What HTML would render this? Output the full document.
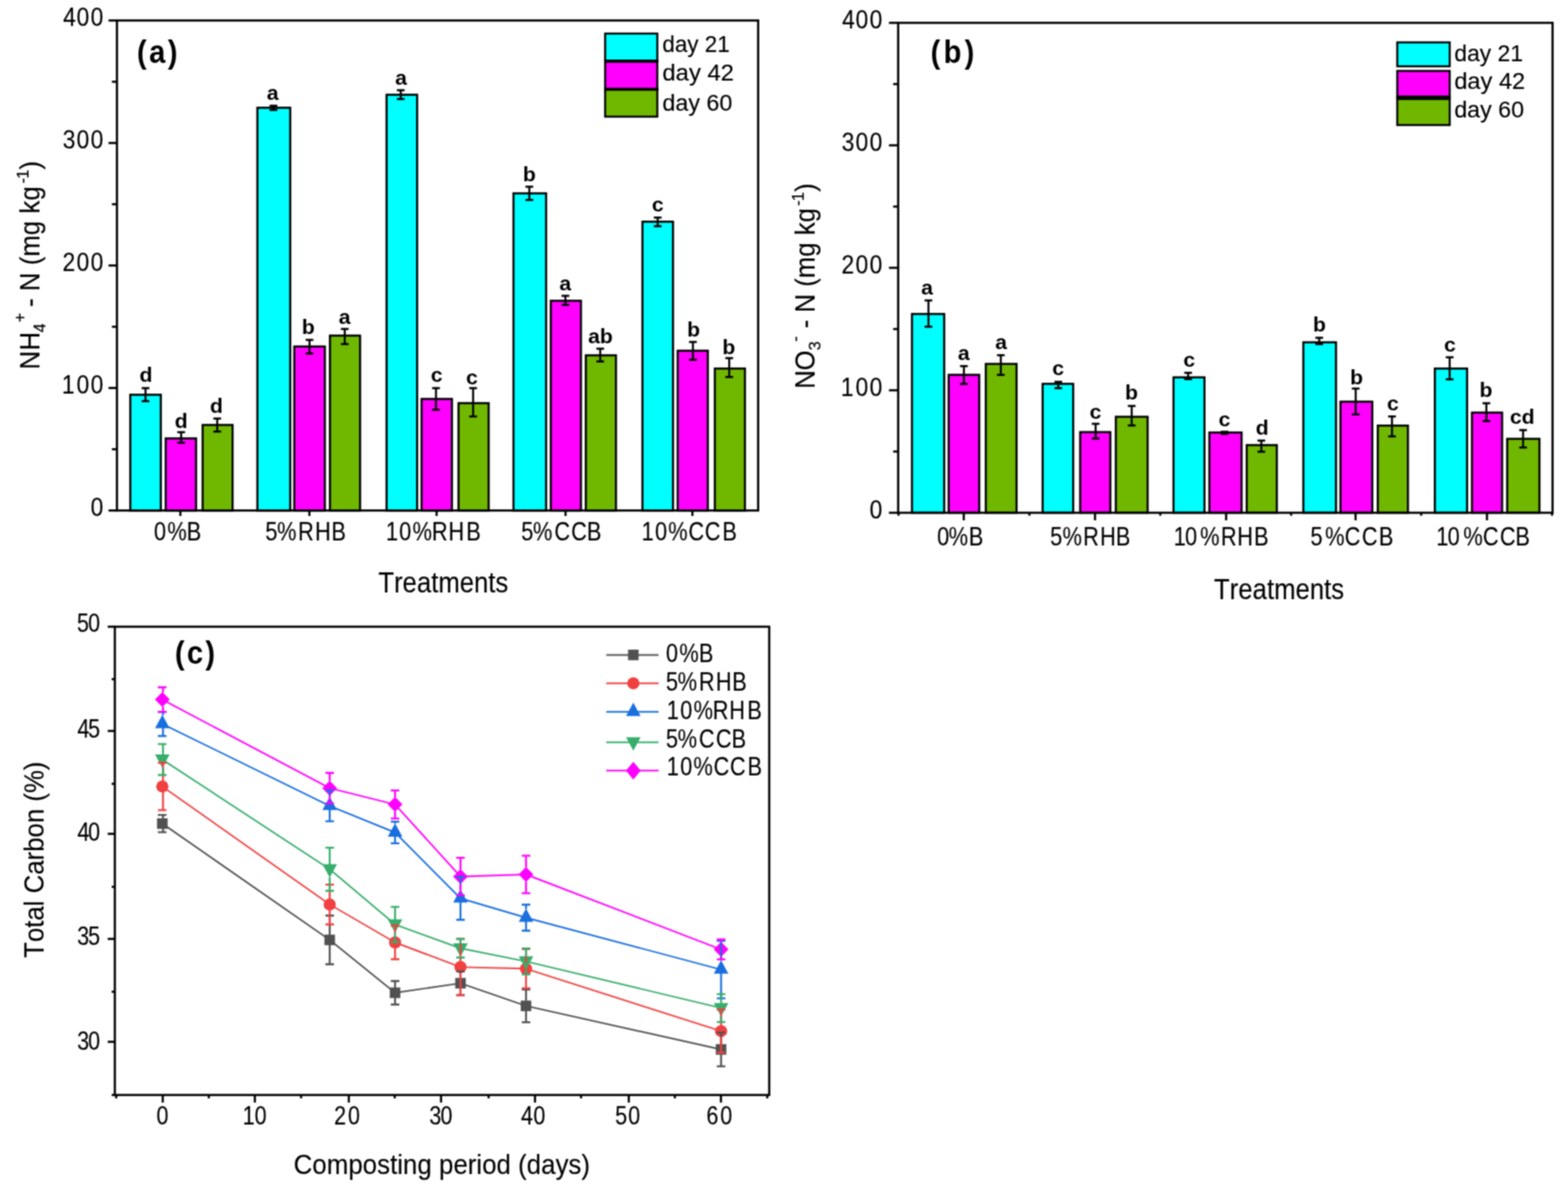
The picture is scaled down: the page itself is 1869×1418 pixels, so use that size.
<!DOCTYPE html>
<html lang="en"><head><meta charset="utf-8"><title>Figure</title>
<style>html,body{margin:0;padding:0;background:#fff}svg{display:block}text{font-family:'Liberation Sans',sans-serif}</style>
</head><body>
<svg width="1869" height="1418" viewBox="0 0 1869 1418">
<defs><filter id="soft" x="0" y="0" width="1869" height="1418" filterUnits="userSpaceOnUse" color-interpolation-filters="sRGB"><feConvolveMatrix order="3" kernelMatrix="1 2 1 2 4 2 1 2 1" divisor="16" edgeMode="duplicate" preserveAlpha="true"/></filter></defs>
<g filter="url(#soft)">
<rect x="-10" y="-10" width="1889" height="1438" fill="#fff"/>
<g id="chart-a">
<rect x="155.3" y="470.4" width="36.4" height="137.9" fill="#00FFFF" stroke="#000" stroke-width="2.5"/>
<rect x="197.55" y="522.4" width="36.15" height="85.9" fill="#FF00FF" stroke="#000" stroke-width="2.5"/>
<rect x="241.55" y="506.4" width="35.65" height="101.9" fill="#70B800" stroke="#000" stroke-width="2.5"/>
<rect x="306.8" y="128.4" width="39.15" height="479.9" fill="#00FFFF" stroke="#000" stroke-width="2.5"/>
<rect x="350.8" y="412.9" width="36.4" height="195.4" fill="#FF00FF" stroke="#000" stroke-width="2.5"/>
<rect x="393.3" y="399.9" width="35.9" height="208.4" fill="#70B800" stroke="#000" stroke-width="2.5"/>
<rect x="460.8" y="112.9" width="36.4" height="495.4" fill="#00FFFF" stroke="#000" stroke-width="2.5"/>
<rect x="502.55" y="475.4" width="36.15" height="132.9" fill="#FF00FF" stroke="#000" stroke-width="2.5"/>
<rect x="546.55" y="480.4" width="35.9" height="127.9" fill="#70B800" stroke="#000" stroke-width="2.5"/>
<rect x="612.05" y="230.4" width="38.9" height="377.9" fill="#00FFFF" stroke="#000" stroke-width="2.5"/>
<rect x="656.55" y="358.4" width="35.9" height="249.9" fill="#FF00FF" stroke="#000" stroke-width="2.5"/>
<rect x="698.3" y="423.4" width="35.9" height="184.9" fill="#70B800" stroke="#000" stroke-width="2.5"/>
<rect x="765.8" y="264.15" width="36.4" height="344.15" fill="#00FFFF" stroke="#000" stroke-width="2.5"/>
<rect x="807.8" y="417.9" width="35.9" height="190.4" fill="#FF00FF" stroke="#000" stroke-width="2.5"/>
<rect x="852.05" y="439.15" width="35.9" height="169.15" fill="#70B800" stroke="#000" stroke-width="2.5"/>
<path d="M173.45 462.5V478M168.85 462.5h9.2M168.85 478h9.2" stroke="#000" stroke-width="2.4" fill="none"/>
<path d="M215.95 515V527.5M211.35 515h9.2M211.35 527.5h9.2" stroke="#000" stroke-width="2.4" fill="none"/>
<path d="M258.95 498.75V514.25M254.35 498.75h9.2M254.35 514.25h9.2" stroke="#000" stroke-width="2.4" fill="none"/>
<path d="M325.95 126V131M321.35 126h9.2M321.35 131h9.2" stroke="#000" stroke-width="2.4" fill="none"/>
<path d="M368.95 405V421.25M364.35 405h9.2M364.35 421.25h9.2" stroke="#000" stroke-width="2.4" fill="none"/>
<path d="M410.95 392V410M406.35 392h9.2M406.35 410h9.2" stroke="#000" stroke-width="2.4" fill="none"/>
<path d="M477.7 107.5V118M473.1 107.5h9.2M473.1 118h9.2" stroke="#000" stroke-width="2.4" fill="none"/>
<path d="M519.7 462.5V488.25M515.1 462.5h9.2M515.1 488.25h9.2" stroke="#000" stroke-width="2.4" fill="none"/>
<path d="M563.95 462.5V496.25M559.35 462.5h9.2M559.35 496.25h9.2" stroke="#000" stroke-width="2.4" fill="none"/>
<path d="M630.95 222.5V238.25M626.35 222.5h9.2M626.35 238.25h9.2" stroke="#000" stroke-width="2.4" fill="none"/>
<path d="M673.95 352.5V363.25M669.35 352.5h9.2M669.35 363.25h9.2" stroke="#000" stroke-width="2.4" fill="none"/>
<path d="M715.45 415.5V430.75M710.85 415.5h9.2M710.85 430.75h9.2" stroke="#000" stroke-width="2.4" fill="none"/>
<path d="M783.95 259.25V269.5M779.35 259.25h9.2M779.35 269.5h9.2" stroke="#000" stroke-width="2.4" fill="none"/>
<path d="M825.95 407.5V428.75M821.35 407.5h9.2M821.35 428.75h9.2" stroke="#000" stroke-width="2.4" fill="none"/>
<path d="M869.2 426.75V449.25M864.6 426.75h9.2M864.6 449.25h9.2" stroke="#000" stroke-width="2.4" fill="none"/>
<text transform="translate(174,455) scale(1.1,1)" font-size="23" font-weight="bold" text-anchor="middle">d</text>
<text transform="translate(216,510) scale(1.1,1)" font-size="23" font-weight="bold" text-anchor="middle">d</text>
<text transform="translate(258,492) scale(1.1,1)" font-size="23" font-weight="bold" text-anchor="middle">d</text>
<text transform="translate(325,118.75) scale(1.1,1)" font-size="23" font-weight="bold" text-anchor="middle">a</text>
<text transform="translate(367.5,398) scale(1.1,1)" font-size="23" font-weight="bold" text-anchor="middle">b</text>
<text transform="translate(410.75,385.5) scale(1.1,1)" font-size="23" font-weight="bold" text-anchor="middle">a</text>
<text transform="translate(478,101) scale(1.1,1)" font-size="23" font-weight="bold" text-anchor="middle">a</text>
<text transform="translate(520.5,455) scale(1.1,1)" font-size="23" font-weight="bold" text-anchor="middle">c</text>
<text transform="translate(562.5,457.5) scale(1.1,1)" font-size="23" font-weight="bold" text-anchor="middle">c</text>
<text transform="translate(631,215.5) scale(1.1,1)" font-size="23" font-weight="bold" text-anchor="middle">b</text>
<text transform="translate(673.75,346) scale(1.1,1)" font-size="23" font-weight="bold" text-anchor="middle">a</text>
<text transform="translate(715.75,408.75) scale(1.1,1)" font-size="23" font-weight="bold" text-anchor="middle">ab</text>
<text transform="translate(784,252) scale(1.1,1)" font-size="23" font-weight="bold" text-anchor="middle">c</text>
<text transform="translate(826.75,400.75) scale(1.1,1)" font-size="23" font-weight="bold" text-anchor="middle">b</text>
<text transform="translate(868.75,421.75) scale(1.1,1)" font-size="23" font-weight="bold" text-anchor="middle">b</text>
<rect x="139.4" y="24.4" width="764.3" height="583.9" fill="none" stroke="#000" stroke-width="2.6"/>
<line x1="129.4" y1="608.3" x2="139.4" y2="608.3" stroke="#000" stroke-width="2.6"/>
<text transform="translate(107.93,614.9) scale(0.8800,1)" x="0" y="0" font-size="31" fill="#000" stroke="#000" stroke-width="0.15">0</text>
<line x1="133.4" y1="535.31" x2="139.4" y2="535.31" stroke="#000" stroke-width="2.6"/>
<line x1="129.4" y1="462.32" x2="139.4" y2="462.32" stroke="#000" stroke-width="2.6"/>
<text transform="translate(73.72,468.92) scale(0.8800,1)" x="0 20.01 38.88" y="0" font-size="31" fill="#000" stroke="#000" stroke-width="0.15">100</text>
<line x1="133.4" y1="389.34" x2="139.4" y2="389.34" stroke="#000" stroke-width="2.6"/>
<line x1="129.4" y1="316.35" x2="139.4" y2="316.35" stroke="#000" stroke-width="2.6"/>
<text transform="translate(74.43,322.95) scale(0.8800,1)" x="0 19.21 38.08" y="0" font-size="31" fill="#000" stroke="#000" stroke-width="0.15">200</text>
<line x1="133.4" y1="243.36" x2="139.4" y2="243.36" stroke="#000" stroke-width="2.6"/>
<line x1="129.4" y1="170.38" x2="139.4" y2="170.38" stroke="#000" stroke-width="2.6"/>
<text transform="translate(74.76,176.97) scale(0.8800,1)" x="0 18.83 37.7" y="0" font-size="31" fill="#000" stroke="#000" stroke-width="0.15">300</text>
<line x1="133.4" y1="97.39" x2="139.4" y2="97.39" stroke="#000" stroke-width="2.6"/>
<line x1="129.4" y1="24.4" x2="139.4" y2="24.4" stroke="#000" stroke-width="2.6"/>
<text transform="translate(75.17,31) scale(0.8800,1)" x="0 18.36 37.23" y="0" font-size="31" fill="#000" stroke="#000" stroke-width="0.15">400</text>
<line x1="215" y1="608.3" x2="215" y2="614.8" stroke="#000" stroke-width="2.6"/>
<line x1="368.8" y1="608.3" x2="368.8" y2="614.8" stroke="#000" stroke-width="2.6"/>
<line x1="520.4" y1="608.3" x2="520.4" y2="614.8" stroke="#000" stroke-width="2.6"/>
<line x1="674.1" y1="608.3" x2="674.1" y2="614.8" stroke="#000" stroke-width="2.6"/>
<line x1="825.3" y1="608.3" x2="825.3" y2="614.8" stroke="#000" stroke-width="2.6"/>
<text transform="translate(183.38,644.1) scale(0.8400,1)" x="0 19.15 46.64" y="0" font-size="31" fill="#000" stroke="#000" stroke-width="0.15">0%B</text>
<text transform="translate(316.16,644.1) scale(0.8400,1)" x="0 16.68 46.67 70.72 93.94" y="0" font-size="31" fill="#000" stroke="#000" stroke-width="0.15">5%RHB</text>
<text transform="translate(459.92,644.1) scale(0.8400,1)" x="0 18.89 38.04 65.18 88.75 114.1" y="0" font-size="31" fill="#000" stroke="#000" stroke-width="0.15">10%RHB</text>
<text transform="translate(621.36,644.1) scale(0.8400,1)" x="0 16.68 46.81 70.86 93.1" y="0" font-size="31" fill="#000" stroke="#000" stroke-width="0.15">5%CCB</text>
<text transform="translate(764.82,644.1) scale(0.8400,1)" x="0 19.01 37.68 66.26 89.48 114.58" y="0" font-size="31" fill="#000" stroke="#000" stroke-width="0.15">10%CCB</text>
<text transform="translate(450.91,706.3) scale(0.8757,1)" x="0 21.38 33.03 52.5 71.97 81.69 110.84 130.31 149.78 159.5" y="0" font-size="35" fill="#000" stroke="#000" stroke-width="0.15">Treatments</text>
<text transform="translate(46.6,438) rotate(-90) scale(0.9300,1)" fill="#000" stroke="#000" stroke-width="0.15"><tspan x="-2.38 21.66" y="0" font-size="33">NH</tspan><tspan x="45" y="7.5" font-size="21">4</tspan><tspan x="57.68" y="-15.5" font-size="21">+</tspan><tspan x="68.51 77.67 88.72 97.95 121.85 131.08 142.13 169.68 188.09 197.32 213.88" y="0" font-size="33"> - N (mg kg</tspan><tspan x="235.95 241.93" y="-13" font-size="21">-1</tspan><tspan x="253.89" y="0" font-size="33">)</tspan></text>
<text transform="translate(163.27,74.8) scale(0.8800,1)" x="0 16.49 41.8" y="0" font-size="39.5" font-weight="bold" fill="#000">(a)</text>
<rect x="721.3" y="40" width="62.2" height="32.5" fill="#00FFFF" stroke="#000" stroke-width="2.4"/>
<rect x="721.3" y="73.5" width="62.2" height="32.5" fill="#FF00FF" stroke="#000" stroke-width="2.4"/>
<rect x="721.3" y="107" width="62.2" height="32" fill="#70B800" stroke="#000" stroke-width="2.4"/>
<line x1="720.1" y1="72.6" x2="784.7" y2="72.6" stroke="#000" stroke-width="3.2"/>
<line x1="720.1" y1="106.4" x2="784.7" y2="106.4" stroke="#000" stroke-width="3.2"/>
<text transform="translate(789.58,61.8) scale(0.9376,1)" x="0 15.85 31.7 45.95 53.87 69.72" y="0" font-size="28.5" fill="#000" stroke="#000" stroke-width="0.15">day 21</text>
<text transform="translate(789.51,95.7) scale(0.9983,1)" x="0 15.85 31.7 45.95 53.87 69.72" y="0" font-size="28.5" fill="#000" stroke="#000" stroke-width="0.15">day 42</text>
<text transform="translate(789.53,132) scale(0.9753,1)" x="0 15.85 31.7 45.95 53.87 69.72" y="0" font-size="28.5" fill="#000" stroke="#000" stroke-width="0.15">day 60</text>
</g>
<g id="chart-b">
<rect x="1087.05" y="374.15" width="38.4" height="236.85" fill="#00FFFF" stroke="#000" stroke-width="2.5"/>
<rect x="1130.8" y="446.65" width="36.4" height="164.35" fill="#FF00FF" stroke="#000" stroke-width="2.5"/>
<rect x="1175.05" y="433.65" width="36.65" height="177.35" fill="#70B800" stroke="#000" stroke-width="2.5"/>
<rect x="1242.8" y="457.4" width="36.4" height="153.6" fill="#00FFFF" stroke="#000" stroke-width="2.5"/>
<rect x="1287.55" y="514.9" width="35.9" height="96.1" fill="#FF00FF" stroke="#000" stroke-width="2.5"/>
<rect x="1330.05" y="496.65" width="37.9" height="114.35" fill="#70B800" stroke="#000" stroke-width="2.5"/>
<rect x="1398.8" y="449.65" width="36.9" height="161.35" fill="#00FFFF" stroke="#000" stroke-width="2.5"/>
<rect x="1441.55" y="515.4" width="38.4" height="95.6" fill="#FF00FF" stroke="#000" stroke-width="2.5"/>
<rect x="1486.05" y="530.4" width="35.9" height="80.6" fill="#70B800" stroke="#000" stroke-width="2.5"/>
<rect x="1553.55" y="407.9" width="38.9" height="203.1" fill="#00FFFF" stroke="#000" stroke-width="2.5"/>
<rect x="1597.8" y="478.65" width="37.9" height="132.35" fill="#FF00FF" stroke="#000" stroke-width="2.5"/>
<rect x="1642.3" y="507.15" width="35.9" height="103.85" fill="#70B800" stroke="#000" stroke-width="2.5"/>
<rect x="1710.3" y="439.15" width="38.4" height="171.85" fill="#00FFFF" stroke="#000" stroke-width="2.5"/>
<rect x="1754.55" y="491.65" width="35.9" height="119.35" fill="#FF00FF" stroke="#000" stroke-width="2.5"/>
<rect x="1796.55" y="522.9" width="38.4" height="88.1" fill="#70B800" stroke="#000" stroke-width="2.5"/>
<path d="M1106.7 358V389.25M1102.1 358h9.2M1102.1 389.25h9.2" stroke="#000" stroke-width="2.4" fill="none"/>
<path d="M1148.95 436.25V457.5M1144.35 436.25h9.2M1144.35 457.5h9.2" stroke="#000" stroke-width="2.4" fill="none"/>
<path d="M1192.95 423.25V446.75M1188.35 423.25h9.2M1188.35 446.75h9.2" stroke="#000" stroke-width="2.4" fill="none"/>
<path d="M1261.45 455V462.5M1256.85 455h9.2M1256.85 462.5h9.2" stroke="#000" stroke-width="2.4" fill="none"/>
<path d="M1305.95 505V522.5M1301.35 505h9.2M1301.35 522.5h9.2" stroke="#000" stroke-width="2.4" fill="none"/>
<path d="M1348.95 483.75V507M1344.35 483.75h9.2M1344.35 507h9.2" stroke="#000" stroke-width="2.4" fill="none"/>
<path d="M1416.2 444.25V451.75M1411.6 444.25h9.2M1411.6 451.75h9.2" stroke="#000" stroke-width="2.4" fill="none"/>
<path d="M1459.7 514.5V517M1455.1 514.5h9.2M1455.1 517h9.2" stroke="#000" stroke-width="2.4" fill="none"/>
<path d="M1503.45 525V538.25M1498.85 525h9.2M1498.85 538.25h9.2" stroke="#000" stroke-width="2.4" fill="none"/>
<path d="M1572.45 402.5V410M1567.85 402.5h9.2M1567.85 410h9.2" stroke="#000" stroke-width="2.4" fill="none"/>
<path d="M1615.95 463V493.75M1611.35 463h9.2M1611.35 493.75h9.2" stroke="#000" stroke-width="2.4" fill="none"/>
<path d="M1659.2 496.25V520M1654.6 496.25h9.2M1654.6 520h9.2" stroke="#000" stroke-width="2.4" fill="none"/>
<path d="M1727.95 425.75V452M1723.35 425.75h9.2M1723.35 452h9.2" stroke="#000" stroke-width="2.4" fill="none"/>
<path d="M1771.7 480.5V501.75M1767.1 480.5h9.2M1767.1 501.75h9.2" stroke="#000" stroke-width="2.4" fill="none"/>
<path d="M1815.45 512.5V533.25M1810.85 512.5h9.2M1810.85 533.25h9.2" stroke="#000" stroke-width="2.4" fill="none"/>
<text transform="translate(1105,351.25) scale(1.1,1)" font-size="23" font-weight="bold" text-anchor="middle">a</text>
<text transform="translate(1148.75,429.25) scale(1.1,1)" font-size="23" font-weight="bold" text-anchor="middle">a</text>
<text transform="translate(1193.25,416.25) scale(1.1,1)" font-size="23" font-weight="bold" text-anchor="middle">a</text>
<text transform="translate(1261.25,447) scale(1.1,1)" font-size="23" font-weight="bold" text-anchor="middle">c</text>
<text transform="translate(1305.75,499.25) scale(1.1,1)" font-size="23" font-weight="bold" text-anchor="middle">c</text>
<text transform="translate(1348.75,475.75) scale(1.1,1)" font-size="23" font-weight="bold" text-anchor="middle">b</text>
<text transform="translate(1417.5,436.75) scale(1.1,1)" font-size="23" font-weight="bold" text-anchor="middle">c</text>
<text transform="translate(1459.5,507.5) scale(1.1,1)" font-size="23" font-weight="bold" text-anchor="middle">c</text>
<text transform="translate(1504.5,517.5) scale(1.1,1)" font-size="23" font-weight="bold" text-anchor="middle">d</text>
<text transform="translate(1572.75,395) scale(1.1,1)" font-size="23" font-weight="bold" text-anchor="middle">b</text>
<text transform="translate(1617,457.5) scale(1.1,1)" font-size="23" font-weight="bold" text-anchor="middle">b</text>
<text transform="translate(1660.25,489.25) scale(1.1,1)" font-size="23" font-weight="bold" text-anchor="middle">c</text>
<text transform="translate(1728.25,418.75) scale(1.1,1)" font-size="23" font-weight="bold" text-anchor="middle">c</text>
<text transform="translate(1771.25,473.25) scale(1.1,1)" font-size="23" font-weight="bold" text-anchor="middle">b</text>
<text transform="translate(1814.5,505) scale(1.1,1)" font-size="23" font-weight="bold" text-anchor="middle">cd</text>
<rect x="1070.6" y="27.2" width="780" height="583.8" fill="none" stroke="#000" stroke-width="2.6"/>
<line x1="1059.6" y1="611" x2="1070.6" y2="611" stroke="#000" stroke-width="2.6"/>
<text transform="translate(1036.43,617.6) scale(0.8800,1)" x="0" y="0" font-size="31" fill="#000" stroke="#000" stroke-width="0.15">0</text>
<line x1="1064.6" y1="538.02" x2="1070.6" y2="538.02" stroke="#000" stroke-width="2.6"/>
<line x1="1059.6" y1="465.05" x2="1070.6" y2="465.05" stroke="#000" stroke-width="2.6"/>
<text transform="translate(1002.22,471.65) scale(0.8800,1)" x="0 20.01 38.88" y="0" font-size="31" fill="#000" stroke="#000" stroke-width="0.15">100</text>
<line x1="1064.6" y1="392.08" x2="1070.6" y2="392.08" stroke="#000" stroke-width="2.6"/>
<line x1="1059.6" y1="319.1" x2="1070.6" y2="319.1" stroke="#000" stroke-width="2.6"/>
<text transform="translate(1002.93,325.7) scale(0.8800,1)" x="0 19.21 38.08" y="0" font-size="31" fill="#000" stroke="#000" stroke-width="0.15">200</text>
<line x1="1064.6" y1="246.13" x2="1070.6" y2="246.13" stroke="#000" stroke-width="2.6"/>
<line x1="1059.6" y1="173.15" x2="1070.6" y2="173.15" stroke="#000" stroke-width="2.6"/>
<text transform="translate(1003.26,179.75) scale(0.8800,1)" x="0 18.83 37.7" y="0" font-size="31" fill="#000" stroke="#000" stroke-width="0.15">300</text>
<line x1="1064.6" y1="100.18" x2="1070.6" y2="100.18" stroke="#000" stroke-width="2.6"/>
<line x1="1059.6" y1="27.2" x2="1070.6" y2="27.2" stroke="#000" stroke-width="2.6"/>
<text transform="translate(1003.67,33.8) scale(0.8800,1)" x="0 18.36 37.23" y="0" font-size="31" fill="#000" stroke="#000" stroke-width="0.15">400</text>
<line x1="1148.8" y1="611" x2="1148.8" y2="620" stroke="#000" stroke-width="2.6"/>
<line x1="1305.2" y1="611" x2="1305.2" y2="620" stroke="#000" stroke-width="2.6"/>
<line x1="1461.5" y1="611" x2="1461.5" y2="620" stroke="#000" stroke-width="2.6"/>
<line x1="1615.8" y1="611" x2="1615.8" y2="620" stroke="#000" stroke-width="2.6"/>
<line x1="1772.4" y1="611" x2="1772.4" y2="620" stroke="#000" stroke-width="2.6"/>
<line x1="1071" y1="611" x2="1071" y2="614.5" stroke="#000" stroke-width="2.6"/>
<line x1="1227" y1="611" x2="1227" y2="614.5" stroke="#000" stroke-width="2.6"/>
<line x1="1383" y1="611" x2="1383" y2="614.5" stroke="#000" stroke-width="2.6"/>
<line x1="1539" y1="611" x2="1539" y2="614.5" stroke="#000" stroke-width="2.6"/>
<line x1="1694" y1="611" x2="1694" y2="614.5" stroke="#000" stroke-width="2.6"/>
<line x1="1850" y1="611" x2="1850" y2="614.5" stroke="#000" stroke-width="2.6"/>
<text transform="translate(1116.88,649.8) scale(0.8400,1)" x="0 16.65 44.98" y="0" font-size="31" fill="#000" stroke="#000" stroke-width="0.15">0%B</text>
<text transform="translate(1251.76,649.8) scale(0.8400,1)" x="0 17.52 46.79 70.84 93.1" y="0" font-size="31" fill="#000" stroke="#000" stroke-width="0.15">5%RHB</text>
<text transform="translate(1398.92,649.8) scale(0.8400,1)" x="0 16.15 37.68 66.96 90.18 114.1" y="0" font-size="31" fill="#000" stroke="#000" stroke-width="0.15">10%RHB</text>
<text transform="translate(1561.96,649.8) scale(0.8400,1)" x="0 20.85 48.48 72.88 97.15" y="0" font-size="31" fill="#000" stroke="#000" stroke-width="0.15">5%CCB</text>
<text transform="translate(1711.92,649.8) scale(0.8400,1)" x="0 16.03 38.52 66.14 90.19 112.44" y="0" font-size="31" fill="#000" stroke="#000" stroke-width="0.15">10%CCB</text>
<text transform="translate(1447.11,713.9) scale(0.8757,1)" x="0 21.38 33.03 52.5 71.97 81.69 110.84 130.31 149.78 159.5" y="0" font-size="35" fill="#000" stroke="#000" stroke-width="0.15">Treatments</text>
<text transform="translate(970.7,461) rotate(-90) scale(0.9300,1)" fill="#000" stroke="#000" stroke-width="0.15"><tspan x="-2.38 20.96" y="0" font-size="33">NO</tspan><tspan x="46.83" y="7.5" font-size="21">3</tspan><tspan x="57.99" y="-15.5" font-size="21">-</tspan><tspan x="65.71 74.88 85.9 95.11 118.98 128.18 139.21 166.74 185.13 194.33 210.87" y="0" font-size="33"> - N (mg kg</tspan><tspan x="231.97 237.95" y="-13" font-size="21">-1</tspan><tspan x="250.13" y="0" font-size="33">)</tspan></text>
<text transform="translate(1109.27,75.3) scale(0.8800,1)" x="0 17.46 45.89" y="0" font-size="39.5" font-weight="bold" fill="#000">(b)</text>
<rect x="1665.5" y="50.5" width="62.5" height="28.5" fill="#00FFFF" stroke="#000" stroke-width="2.4"/>
<rect x="1665.5" y="84.5" width="62.5" height="30.5" fill="#FF00FF" stroke="#000" stroke-width="2.4"/>
<rect x="1665.5" y="118" width="62.5" height="31" fill="#70B800" stroke="#000" stroke-width="2.4"/>
<line x1="1664.3" y1="116.5" x2="1729.2" y2="116.5" stroke="#000" stroke-width="3.2"/>
<text transform="translate(1733.45,72.9) scale(0.9580,1)" x="0 15.85 31.7 45.95 53.87 69.72" y="0" font-size="28.5" fill="#000" stroke="#000" stroke-width="0.15">day 21</text>
<text transform="translate(1733.42,106.4) scale(0.9887,1)" x="0 15.85 31.7 45.95 53.87 69.72" y="0" font-size="28.5" fill="#000" stroke="#000" stroke-width="0.15">day 42</text>
<text transform="translate(1733.44,140.4) scale(0.9729,1)" x="0 15.85 31.7 45.95 53.87 69.72" y="0" font-size="28.5" fill="#000" stroke="#000" stroke-width="0.15">day 60</text>
</g>
<g id="chart-c">
<polyline points="193.5,981.4 393,1120 470.9,1183 548.9,1171.6 627,1198.6 859.5,1250.5" fill="none" stroke="#515151" stroke-width="1.9" stroke-linejoin="round"/>
<rect x="187.2" y="975.1" width="12.6" height="12.6" fill="#515151"/>
<rect x="386.7" y="1113.7" width="12.6" height="12.6" fill="#515151"/>
<rect x="464.6" y="1176.7" width="12.6" height="12.6" fill="#515151"/>
<rect x="542.6" y="1165.3" width="12.6" height="12.6" fill="#515151"/>
<rect x="620.7" y="1192.3" width="12.6" height="12.6" fill="#515151"/>
<rect x="853.2" y="1244.2" width="12.6" height="12.6" fill="#515151"/>
<polyline points="193.5,937.2 393,1077.8 470.9,1123 548.9,1152.4 627,1154.3 859.5,1228.7" fill="none" stroke="#F14040" stroke-width="1.9" stroke-linejoin="round"/>
<circle cx="193.5" cy="937.2" r="7.3" fill="#F14040"/>
<circle cx="393" cy="1077.8" r="7.3" fill="#F14040"/>
<circle cx="470.9" cy="1123" r="7.3" fill="#F14040"/>
<circle cx="548.9" cy="1152.4" r="7.3" fill="#F14040"/>
<circle cx="627" cy="1154.3" r="7.3" fill="#F14040"/>
<circle cx="859.5" cy="1228.7" r="7.3" fill="#F14040"/>
<polyline points="193.5,862.7 393,960.3 470.9,992 548.9,1070.5 627,1093.5 859.5,1155.3" fill="none" stroke="#1A6FDF" stroke-width="1.9" stroke-linejoin="round"/>
<polygon points="193.5,851.7 202.2,867.7 184.8,867.7" fill="#1A6FDF"/>
<polygon points="393,949.3 401.7,965.3 384.3,965.3" fill="#1A6FDF"/>
<polygon points="470.9,981 479.6,997 462.2,997" fill="#1A6FDF"/>
<polygon points="548.9,1059.5 557.6,1075.5 540.2,1075.5" fill="#1A6FDF"/>
<polygon points="627,1082.5 635.7,1098.5 618.3,1098.5" fill="#1A6FDF"/>
<polygon points="859.5,1144.3 868.2,1160.3 850.8,1160.3" fill="#1A6FDF"/>
<polyline points="193.5,905.1 393,1035.8 470.9,1101.6 548.9,1130 627,1145.6 859.5,1201.2" fill="none" stroke="#37AD6B" stroke-width="1.9" stroke-linejoin="round"/>
<polygon points="193.5,915.1 202.2,899.1 184.8,899.1" fill="#37AD6B"/>
<polygon points="393,1045.8 401.7,1029.8 384.3,1029.8" fill="#37AD6B"/>
<polygon points="470.9,1111.6 479.6,1095.6 462.2,1095.6" fill="#37AD6B"/>
<polygon points="548.9,1140 557.6,1124 540.2,1124" fill="#37AD6B"/>
<polygon points="627,1155.6 635.7,1139.6 618.3,1139.6" fill="#37AD6B"/>
<polygon points="859.5,1211.2 868.2,1195.2 850.8,1195.2" fill="#37AD6B"/>
<polyline points="193.5,833.6 393,939.2 470.9,958.6 548.9,1044.5 627,1042 859.5,1131.3" fill="none" stroke="#FF00FF" stroke-width="1.9" stroke-linejoin="round"/>
<polygon points="193.5,824.6 202.3,833.6 193.5,842.6 184.7,833.6" fill="#FF00FF"/>
<polygon points="393,930.2 401.8,939.2 393,948.2 384.2,939.2" fill="#FF00FF"/>
<polygon points="470.9,949.6 479.7,958.6 470.9,967.6 462.1,958.6" fill="#FF00FF"/>
<polygon points="548.9,1035.5 557.7,1044.5 548.9,1053.5 540.1,1044.5" fill="#FF00FF"/>
<polygon points="627,1033 635.8,1042 627,1051 618.2,1042" fill="#FF00FF"/>
<polygon points="859.5,1122.3 868.3,1131.3 859.5,1140.3 850.7,1131.3" fill="#FF00FF"/>
<path d="M194.3 971.2V975.6M194.3 987.2V991.6M188.2 971.2h10.2M188.2 991.6h10.2M393 1091V1114.2M393 1125.8V1149M387.9 1091h10.2M387.9 1149h10.2M470.9 1169V1177.2M470.9 1188.8V1197M465.8 1169h10.2M465.8 1197h10.2M548.9 1157.6V1165.8M548.9 1177.4V1185.6M543.8 1157.6h10.2M543.8 1185.6h10.2M627 1179V1192.8M627 1204.4V1218.2M621.9 1179h10.2M621.9 1218.2h10.2M859.5 1230.3V1244.7M859.5 1256.3V1270.7M854.4 1230.3h10.2M854.4 1270.7h10.2" stroke="#515151" stroke-width="2.3" fill="none"/>
<path d="M194.3 909V930.4M194.3 944V965.4M188.2 909h10.2M188.2 965.4h10.2M393 1054.1V1071M393 1084.6V1101.5M387.9 1054.1h10.2M387.9 1101.5h10.2M470.9 1103V1116.2M470.9 1129.8V1143M465.8 1103h10.2M465.8 1143h10.2M548.9 1118.6V1145.6M548.9 1159.2V1186.2M543.8 1118.6h10.2M543.8 1186.2h10.2M627 1130.9V1147.5M627 1161.1V1177.7M621.9 1130.9h10.2M621.9 1177.7h10.2M859.5 1203V1221.9M859.5 1235.5V1254.4M854.4 1203h10.2M854.4 1254.4h10.2" stroke="#F14040" stroke-width="2.3" fill="none"/>
<path d="M194.3 848.4V852.2M194.3 867.2V877M188.2 848.4h10.2M188.2 877h10.2M393 941.9V949.8M393 964.8V978.7M387.9 941.9h10.2M387.9 978.7h10.2M470.9 979.2V981.5M470.9 996.5V1004.8M465.8 979.2h10.2M465.8 1004.8h10.2M548.9 1045V1060M548.9 1075V1096M543.8 1045h10.2M543.8 1096h10.2M627 1078V1083M627 1098V1109M621.9 1078h10.2M621.9 1109h10.2M859.5 1121V1144.8M859.5 1159.8V1189.6M854.4 1121h10.2M854.4 1189.6h10.2" stroke="#1A6FDF" stroke-width="2.3" fill="none"/>
<path d="M194.3 886.7V899.6M194.3 914.6V923.5M188.2 886.7h10.2M188.2 923.5h10.2M393 1010.1V1030.3M393 1045.3V1061.5M387.9 1010.1h10.2M387.9 1061.5h10.2M470.9 1080.6V1096.1M470.9 1111.1V1122.6M465.8 1080.6h10.2M465.8 1122.6h10.2M548.9 1119V1124.5M548.9 1139.5V1141M543.8 1119h10.2M543.8 1141h10.2M627 1130.1V1140.1M627 1155.1V1161.1M621.9 1130.1h10.2M621.9 1161.1h10.2M859.5 1184.6V1195.7M859.5 1210.7V1217.8M854.4 1184.6h10.2M854.4 1217.8h10.2" stroke="#37AD6B" stroke-width="2.3" fill="none"/>
<path d="M194.3 819V825.1M194.3 842.1V848.2M188.2 819h10.2M188.2 848.2h10.2M393 921V930.7M393 947.7V957.4M387.9 921h10.2M387.9 957.4h10.2M470.9 941.9V950.1M470.9 967.1V975.3M465.8 941.9h10.2M465.8 975.3h10.2M548.9 1022.2V1036M548.9 1053V1066.8M543.8 1022.2h10.2M543.8 1066.8h10.2M627 1019.7V1033.5M627 1050.5V1064.3M621.9 1019.7h10.2M621.9 1064.3h10.2M859.5 1119.5V1122.8M859.5 1139.8V1143.1M854.4 1119.5h10.2M854.4 1143.1h10.2" stroke="#FF00FF" stroke-width="2.3" fill="none"/>
<rect x="136.9" y="746.8" width="780" height="558" fill="none" stroke="#000" stroke-width="2.6"/>
<line x1="128.4" y1="746.8" x2="136.9" y2="746.8" stroke="#000" stroke-width="2.6"/>
<text transform="translate(91.87,753.2) scale(0.8300,1)" x="0 15.81" y="0" font-size="31" fill="#000" stroke="#000" stroke-width="0.15">50</text>
<line x1="133.1" y1="809.3" x2="136.9" y2="809.3" stroke="#000" stroke-width="2.6"/>
<line x1="128.4" y1="871" x2="136.9" y2="871" stroke="#000" stroke-width="2.6"/>
<text transform="translate(92.31,878.7) scale(0.8300,1)" x="0 15.25" y="0" font-size="31" fill="#000" stroke="#000" stroke-width="0.15">45</text>
<line x1="133.1" y1="934" x2="136.9" y2="934" stroke="#000" stroke-width="2.6"/>
<line x1="128.4" y1="993.6" x2="136.9" y2="993.6" stroke="#000" stroke-width="2.6"/>
<text transform="translate(92.31,1001.7) scale(0.8300,1)" x="0 15.28" y="0" font-size="31" fill="#000" stroke="#000" stroke-width="0.15">40</text>
<line x1="133.1" y1="1056.8" x2="136.9" y2="1056.8" stroke="#000" stroke-width="2.6"/>
<line x1="128.4" y1="1118.8" x2="136.9" y2="1118.8" stroke="#000" stroke-width="2.6"/>
<text transform="translate(91.92,1126.2) scale(0.8300,1)" x="0 15.72" y="0" font-size="31" fill="#000" stroke="#000" stroke-width="0.15">35</text>
<line x1="133.1" y1="1181.8" x2="136.9" y2="1181.8" stroke="#000" stroke-width="2.6"/>
<line x1="128.4" y1="1241.4" x2="136.9" y2="1241.4" stroke="#000" stroke-width="2.6"/>
<text transform="translate(91.92,1250.7) scale(0.8300,1)" x="0 15.75" y="0" font-size="31" fill="#000" stroke="#000" stroke-width="0.15">30</text>
<line x1="133.1" y1="1304.8" x2="136.9" y2="1304.8" stroke="#000" stroke-width="2.6"/>
<line x1="138.5" y1="1304.8" x2="138.5" y2="1308.8" stroke="#000" stroke-width="2.6"/>
<line x1="194" y1="1304.8" x2="194" y2="1313.8" stroke="#000" stroke-width="2.6"/>
<text transform="translate(186.49,1340.1) scale(0.8300,1)" x="0" y="0" font-size="31" fill="#000" stroke="#000" stroke-width="0.15">0</text>
<line x1="248.9" y1="1304.8" x2="248.9" y2="1308.8" stroke="#000" stroke-width="2.6"/>
<line x1="303.8" y1="1304.8" x2="303.8" y2="1313.8" stroke="#000" stroke-width="2.6"/>
<text transform="translate(289.34,1340.1) scale(0.8300,1)" x="0 16.93" y="0" font-size="31" fill="#000" stroke="#000" stroke-width="0.15">10</text>
<line x1="358.9" y1="1304.8" x2="358.9" y2="1308.8" stroke="#000" stroke-width="2.6"/>
<line x1="415.8" y1="1304.8" x2="415.8" y2="1313.8" stroke="#000" stroke-width="2.6"/>
<text transform="translate(398.21,1340.1) scale(0.8300,1)" x="0 19.99" y="0" font-size="31" fill="#000" stroke="#000" stroke-width="0.15">20</text>
<line x1="470.5" y1="1304.8" x2="470.5" y2="1308.8" stroke="#000" stroke-width="2.6"/>
<line x1="525.7" y1="1304.8" x2="525.7" y2="1313.8" stroke="#000" stroke-width="2.6"/>
<text transform="translate(511.82,1340.1) scale(0.8300,1)" x="0 15.87" y="0" font-size="31" fill="#000" stroke="#000" stroke-width="0.15">30</text>
<line x1="582.4" y1="1304.8" x2="582.4" y2="1308.8" stroke="#000" stroke-width="2.6"/>
<line x1="637.7" y1="1304.8" x2="637.7" y2="1313.8" stroke="#000" stroke-width="2.6"/>
<text transform="translate(621.01,1340.1) scale(0.8300,1)" x="0 17.81" y="0" font-size="31" fill="#000" stroke="#000" stroke-width="0.15">40</text>
<line x1="692.6" y1="1304.8" x2="692.6" y2="1308.8" stroke="#000" stroke-width="2.6"/>
<line x1="749.5" y1="1304.8" x2="749.5" y2="1313.8" stroke="#000" stroke-width="2.6"/>
<text transform="translate(733.37,1340.1) scale(0.8300,1)" x="0 18.46" y="0" font-size="31" fill="#000" stroke="#000" stroke-width="0.15">50</text>
<line x1="804.4" y1="1304.8" x2="804.4" y2="1308.8" stroke="#000" stroke-width="2.6"/>
<line x1="859.3" y1="1304.8" x2="859.3" y2="1313.8" stroke="#000" stroke-width="2.6"/>
<text transform="translate(841.89,1340.1) scale(0.8300,1)" x="0 20" y="0" font-size="31" fill="#000" stroke="#000" stroke-width="0.15">60</text>
<line x1="914.5" y1="1304.8" x2="914.5" y2="1308.8" stroke="#000" stroke-width="2.6"/>
<text transform="translate(350.03,1398.5) scale(0.9523,1)" x="0 23.4 41.42 68.41 86.43 104.45 120.65 129.65 136.85 154.87 172.88 181.89 199.91 217.92 228.71 235.91 253.93 271.95 280.95 291.74 309.76 327.78 343.98 360.18" y="0" font-size="32.4" fill="#000" stroke="#000" stroke-width="0.15">Composting period (days)</text>
<text transform="translate(51.8,1141) rotate(-90) translate(-0.39,0) scale(0.9486,1)" x="0 19.79 37.81 46.81 64.83 72.03 81.03 104.43 122.45 133.24 151.26 169.28 187.3 196.3 207.09 235.9" y="0" font-size="32.4" fill="#000" stroke="#000" stroke-width="0.15">Total Carbon (%)</text>
<text transform="translate(208.47,791.3) scale(0.8800,1)" x="0 16.21 41.24" y="0" font-size="39.5" font-weight="bold" fill="#000">(c)</text>
<line x1="722.6" y1="780.4" x2="785" y2="780.4" stroke="#515151" stroke-width="2.0"/>
<rect x="748.6" y="774.1" width="12.6" height="12.6" fill="#515151"/>
<text transform="translate(793.78,789) scale(0.8400,1)" x="0 19.15 46.64" y="0" font-size="31" fill="#000" stroke="#000" stroke-width="0.15">0%B</text>
<line x1="722.6" y1="814.2" x2="785" y2="814.2" stroke="#F14040" stroke-width="2.0"/>
<circle cx="754.9" cy="814.2" r="7.3" fill="#F14040"/>
<text transform="translate(793.76,822.85) scale(0.8400,1)" x="0 16.68 46.67 70.72 93.94" y="0" font-size="31" fill="#000" stroke="#000" stroke-width="0.15">5%RHB</text>
<line x1="722.6" y1="848.2" x2="785" y2="848.2" stroke="#1A6FDF" stroke-width="2.0"/>
<polygon points="754.9,837.2 763.6,853.2 746.2,853.2" fill="#1A6FDF"/>
<text transform="translate(794.82,856.7) scale(0.8400,1)" x="0 18.89 38.04 65.18 88.75 114.1" y="0" font-size="31" fill="#000" stroke="#000" stroke-width="0.15">10%RHB</text>
<line x1="722.6" y1="884.5" x2="785" y2="884.5" stroke="#37AD6B" stroke-width="2.0"/>
<polygon points="754.9,894.5 763.6,878.5 746.2,878.5" fill="#37AD6B"/>
<text transform="translate(793.76,890.55) scale(0.8400,1)" x="0 16.68 46.81 70.86 93.1" y="0" font-size="31" fill="#000" stroke="#000" stroke-width="0.15">5%CCB</text>
<line x1="722.6" y1="918.3" x2="785" y2="918.3" stroke="#FF00FF" stroke-width="2.0"/>
<polygon points="754.9,907.7 763.7,918.3 754.9,928.9 746.1,918.3" fill="#FF00FF"/>
<text transform="translate(794.82,924.4) scale(0.8400,1)" x="0 19.01 37.68 66.26 89.48 114.58" y="0" font-size="31" fill="#000" stroke="#000" stroke-width="0.15">10%CCB</text>
</g>
</g></svg></body></html>
